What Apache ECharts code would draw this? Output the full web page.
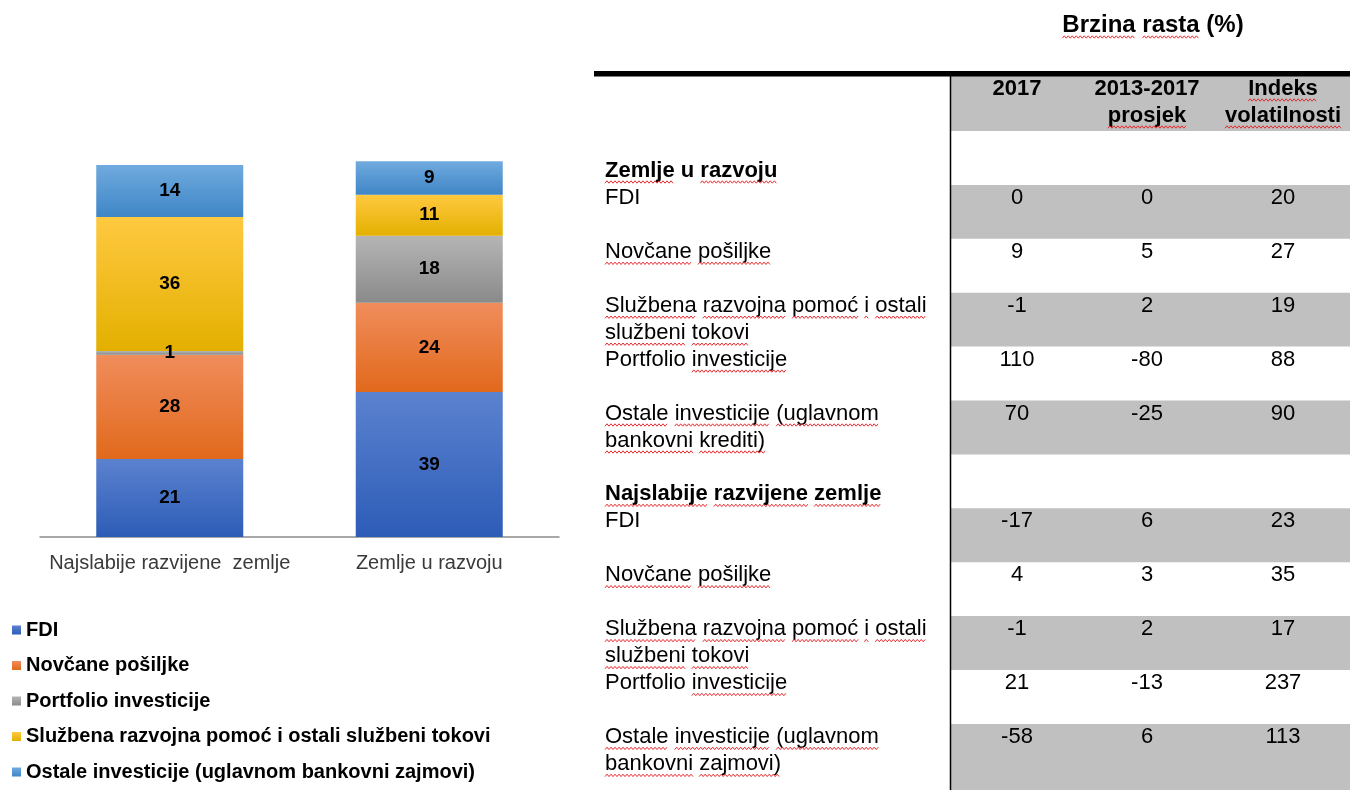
<!DOCTYPE html>
<html>
<head>
<meta charset="utf-8">
<title>Brzina rasta</title>
<script src="https://cdn.jsdelivr.net/npm/echarts@6/dist/echarts.min.js"></script>
<style>
  html, body { margin: 0; padding: 0; background: #fff; }
  #chart { width: 1350px; height: 790px; }
</style>
</head>
<body>
<div id="chart"></div>
<script>
// stupci (udio u %)
const categories = ['Najslabije razvijene  zemlje', 'Zemlje u razvoju']
const seriesNames = ['FDI', 'Novčane pošiljke', 'Portfolio investicije', 'Službena razvojna pomoć i ostali službeni tokovi', 'Ostale investicije (uglavnom bankovni zajmovi)']
const fdi = [21, 39]
const doznake = [28, 24]
const portfolio = [1, 18]
const sluzbena = [36, 11]
const ostale = [14, 9]

// tablica - brzina rasta
const tableTitle = 'Brzina rasta (%)'
const columnHeads = ['2017', '2013-2017\nprosjek', 'Indeks\nvolatilnosti']
const groupNames = ['Zemlje u razvoju', 'Najslabije razvijene zemlje']
const rowLabelsRazvoj = ['FDI', 'Novčane pošiljke', 'Službena razvojna pomoć i ostali\nslužbeni tokovi', 'Portfolio investicije', 'Ostale investicije (uglavnom\nbankovni krediti)']
const rowLabelsNajslabije = ['FDI', 'Novčane pošiljke', 'Službena razvojna pomoć i ostali\nslužbeni tokovi', 'Portfolio investicije', 'Ostale investicije (uglavnom\nbankovni zajmovi)']
const razvoj2017 = [0, 9, -1, 110, 70]
const razvojProsjek = [0, 5, 2, -80, -25]
const razvojVolatilnost = [20, 27, 19, 88, 90]
const najslabije2017 = [-17, 4, -1, 21, -58]
const najslabijeProsjek = [6, 3, 2, -13, 6]
const najslabijeVolatilnost = [23, 35, 17, 237, 113]

const FONT = 'Liberation Sans'
const barColors = [
  ['#5B82CF', '#2D5CB7'],
  ['#F08D5C', '#E1691C'],
  ['#B5B5B5', '#8A8A8A'],
  ['#FFC941', '#E3B000'],
  ['#70AADF', '#3F86C6']
]

const chart = echarts.init(document.getElementById('chart'))

// crvene valovite linije ispod rijeci (kao u Wordu)
const noUnderline = new Set(['FDI', 'Portfolio', 'u', '(%)', '2017', '2013-2017'])
const measure = document.createElement('canvas').getContext('2d')
const graphics = []
const squiggles = []

function addText (x, baseline, text, opts) {
  const size = opts.size || 22
  const weight = opts.bold ? 'bold' : 'normal'
  const align = opts.align || 'left'
  graphics.push({
    type: 'text',
    x: x,
    y: baseline - 21,
    z: 10,
    style: {
      text: text,
      fontFamily: FONT,
      fontSize: size,
      fontWeight: weight,
      lineHeight: 27,
      fill: '#000',
      align: align,
      verticalAlign: 'top'
    }
  })
  if (opts.noSquiggle) return
  measure.font = weight + ' ' + size + 'px "' + FONT + '"'
  text.split('\n').forEach((line, li) => {
    const lw = measure.measureText(line).width
    const start = align === 'center' ? x - lw / 2 : x
    const y = baseline + li * 27 + 4
    const words = line.split(' ')
    words.forEach((w, wi) => {
      if (noUnderline.has(w) || w === '') return
      const pre = words.slice(0, wi).join(' ') + (wi ? ' ' : '')
      const x0 = start + measure.measureText(pre).width
      const x1 = x0 + measure.measureText(w).width
      const pts = []
      let k = 0
      for (let px = x0; px <= x1; px += 2) {
        pts.push([px, y + (k % 2 ? -1.2 : 1.2)])
        k++
      }
      squiggles.push({
        type: 'polyline',
        z: 11,
        shape: { points: pts },
        style: { stroke: '#E8262B', lineWidth: 1, fill: null }
      })
    })
  })
}

const colX = [1017, 1147, 1283]
const rowTop0 = 131
const rowH = 53.9

// zaglavlje
graphics.push({ type: 'rect', z: 1, shape: { x: 951, y: 76, width: 399, height: 55 }, style: { fill: '#C0C0C0' } })
graphics.push({ type: 'rect', z: 2, shape: { x: 594, y: 71, width: 756, height: 5.5 }, style: { fill: '#000' } })
addText(1153, 33, tableTitle, { bold: true, size: 24, align: 'center' })
columnHeads.forEach((h, i) => {
  addText(colX[i], 96, h, { bold: true, align: 'center' })
})

const groups = [
  { labels: rowLabelsRazvoj, cols: [razvoj2017, razvojProsjek, razvojVolatilnost] },
  { labels: rowLabelsNajslabije, cols: [najslabije2017, najslabijeProsjek, najslabijeVolatilnost] }
]
groups.forEach((g, gi) => {
  const base = gi * 6
  const titleTop = rowTop0 + rowH * base
  addText(605, titleTop + 47, groupNames[gi], { bold: true })
  g.labels.forEach((lab, i) => {
    const top = rowTop0 + rowH * (base + 1 + i)
    if (i % 2 === 0) {
      const last = gi === groups.length - 1 && i === g.labels.length - 1
      graphics.push({
        type: 'rect',
        z: 1,
        shape: { x: 951, y: top, width: 399, height: last ? 790 - top : rowH },
        style: { fill: '#C0C0C0' }
      })
    }
    addText(605, top + 20.5, lab, {})
    g.cols.forEach((col, ci) => {
      addText(colX[ci], top + 20.5, String(col[i]), { align: 'center', noSquiggle: true })
    })
  })
})

graphics.push({ type: 'line', z: 3, shape: { x1: 950.5, y1: 76, x2: 950.5, y2: 790 }, style: { stroke: '#000', lineWidth: 1.5 } })

const values = [fdi, doznake, portfolio, sluzbena, ostale]

const option = {
  animation: false,
  textStyle: { fontFamily: FONT },
  grid: { left: 40, right: 791, top: 127.8, bottom: 253, outerBoundsMode: 'none' },
  legend: {
    orient: 'vertical',
    left: 12,
    top: 619,
    padding: 0,
    icon: 'rect',
    itemWidth: 9,
    itemHeight: 9,
    itemGap: 13.5,
    textStyle: { fontFamily: FONT, fontSize: 20, fontWeight: 'bold', color: '#000', lineHeight: 22 },
    data: seriesNames
  },
  xAxis: {
    type: 'category',
    data: categories,
    axisTick: { show: false },
    axisLine: { lineStyle: { color: '#8C8C8C', width: 1.5 } },
    axisLabel: { interval: 0, fontFamily: FONT, fontSize: 20, color: '#3A3A3A', margin: 16 }
  },
  yAxis: { type: 'value', min: 0, max: 110, show: false, splitLine: { show: false } },
  series: seriesNames.map((name, i) => ({
    name: name,
    type: 'bar',
    stack: 'udio',
    barWidth: 147,
    data: values[i],
    itemStyle: {
      color: new echarts.graphic.LinearGradient(0, 0, 0, 1, [
        { offset: 0, color: barColors[i][0] },
        { offset: 1, color: barColors[i][1] }
      ])
    },
    label: {
      show: true,
      position: 'inside',
      fontFamily: FONT,
      fontSize: 19,
      fontWeight: 'bold',
      color: '#000',
      textBorderWidth: 0
    },
    emphasis: { disabled: true }
  })),
  graphic: graphics.concat(squiggles)
}

chart.setOption(option)
</script>
</body>
</html>
